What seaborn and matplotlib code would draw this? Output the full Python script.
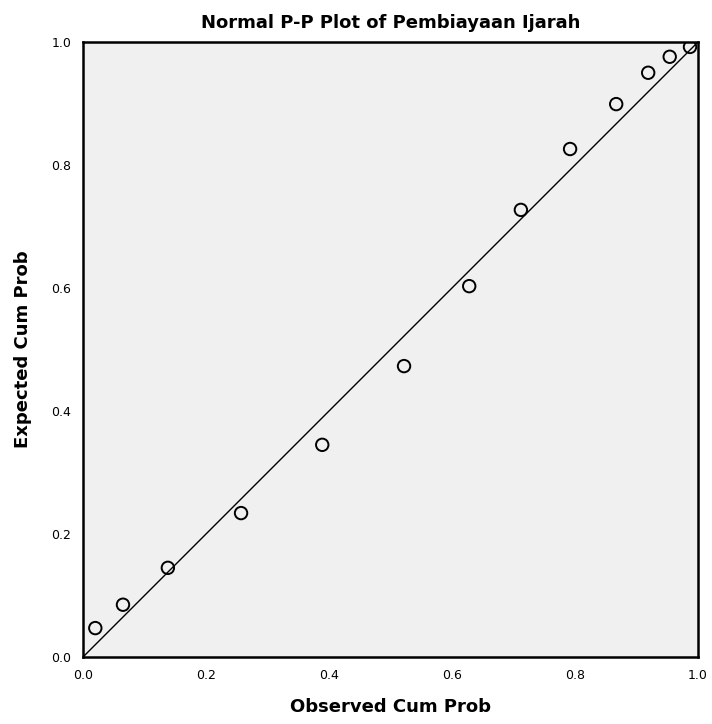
import matplotlib
matplotlib.use("Agg")
import matplotlib.pyplot as plt
import seaborn as sns
import pandas as pd

observed = [0.020, 0.065, 0.138, 0.257, 0.389, 0.522, 0.628, 0.712, 0.792, 0.867, 0.919, 0.954, 0.987]
expected = [0.047, 0.085, 0.145, 0.234, 0.345, 0.473, 0.603, 0.727, 0.826, 0.899, 0.950, 0.976, 0.992]
ticks = [0.0, 0.2, 0.4, 0.6, 0.8, 1.0]
tick_labels = ["0.0", "0.2", "0.4", "0.6", "0.8", "1.0"]

df = pd.DataFrame({"Observed Cum Prob": observed, "Expected Cum Prob": expected})

sns.set_theme(style="white")
plt.rcParams['font.family'] = ['DejaVu Sans']

fig = plt.figure(figsize=(7.12, 7.24), dpi=100)
ax = fig.add_axes([83/712, 67/724, 615/712, 615/724])
ax.set_facecolor("#F0F0F0")

sns.lineplot(x=[0, 1], y=[0, 1], ax=ax, color="black", linewidth=1.0)
sns.scatterplot(data=df, x="Observed Cum Prob", y="Expected Cum Prob", ax=ax,
                marker="o", s=80, facecolor="none", edgecolor="black", linewidth=1.4, zorder=3)

ax.set_xlim(0, 1)
ax.set_ylim(0, 1)
ax.set_xticks(ticks)
ax.set_xticklabels(tick_labels)
ax.set_yticks(ticks)
ax.set_yticklabels(tick_labels)
ax.tick_params(axis="both", direction="out", length=5, width=1, colors="black", labelsize=9)
for s in ax.spines.values():
    s.set_color("black")
    s.set_linewidth(1.8)

ax.set_xlabel("Observed Cum Prob", fontsize=13, labelpad=12, color="black", fontweight="bold")
ax.set_ylabel("Expected Cum Prob", fontsize=13, labelpad=14, color="black", fontweight="bold")
ax.set_title("Normal P-P Plot of Pembiayaan Ijarah", fontsize=13, pad=10, color="black", fontweight="bold")

fig.savefig("out.png", dpi=100)
